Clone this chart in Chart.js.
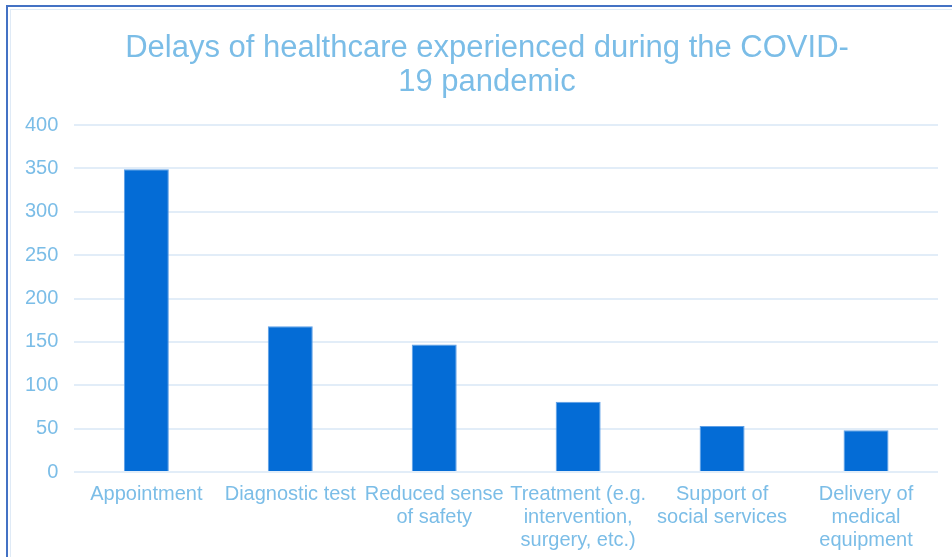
<!DOCTYPE html>
<html>
<head>
<meta charset="utf-8">
<script src="https://cdn.jsdelivr.net/npm/chart.js@4/dist/chart.umd.min.js"></script>
<style>
  html, body { margin: 0; padding: 0; background: #fff; }
  #wrap { position: relative; width: 952px; height: 557px; overflow: hidden; }
  #frame { position: absolute; left: 6px; top: 5px; width: 1000px; height: 600px;
           border-left: 2px solid #4472c4; border-top: 2px solid #4472c4; box-sizing: border-box; }
  #inner { position: absolute; left: 10px; top: 9px; width: 1000px; height: 600px;
           border-left: 1px solid #dfeaf6; border-top: 1px solid #dfeaf6; box-sizing: border-box; }
  canvas { position: absolute; left: 0; top: 0; }
</style>
</head>
<body>
<div id="wrap">
  <div id="frame"></div>
  <div id="inner"></div>
  <canvas id="c" width="952" height="557"></canvas>
</div>
<script>
const titleLines = ["Delays of healthcare experienced during the COVID-", "19 pandemic"];
const categories = [
  "Appointment",
  "Diagnostic test",
  ["Reduced sense", "of safety"],
  ["Treatment (e.g.", "intervention,", "surgery, etc.)"],
  ["Support of", "social services"],
  ["Delivery of", "medical", "equipment"]
];
const values = [349, 168, 147, 81, 53, 48];
const yTicks = [0, 50, 100, 150, 200, 250, 300, 350, 400];

const textColor = '#7bbde7';
const font = 'Arial, "Liberation Sans", sans-serif';

// Draws the two-line title, centred a little right of the canvas centre as in the reference.
const titlePlugin = {
  id: 'offsetTitle',
  afterDraw(chart) {
    const ctx = chart.ctx;
    ctx.save();
    ctx.fillStyle = textColor;
    ctx.font = '31px ' + font;
    ctx.textAlign = 'center';
    ctx.textBaseline = 'middle';
    const cx = 487, top = 31, lh = 34.1;
    titleLines.forEach((line, i) => ctx.fillText(line, cx, top + lh * (i + 0.5)));
    ctx.restore();
  }
};

new Chart(document.getElementById('c'), {
  type: 'bar',
  data: {
    labels: categories,
    datasets: [{
      data: values,
      backgroundColor: '#046cd6',
      borderColor: '#5e9fe6',
      borderWidth: 1,
      categoryPercentage: 1,
      barPercentage: 0.3125
    }]
  },
  options: {
    responsive: false,
    animation: false,
    layout: { padding: { left: 9, right: 14, top: 125, bottom: 2 } },
    plugins: {
      legend: { display: false },
      tooltip: { enabled: false },
      title: { display: false }
    },
    scales: {
      x: {
        grid: { display: false },
        border: { display: false },
        ticks: {
          color: textColor,
          font: { family: font, size: 20, lineHeight: 1.15 },
          padding: 3,
          maxRotation: 0,
          autoSkip: false
        }
      },
      y: {
        min: 0,
        max: 400,
        afterBuildTicks: (axis) => { axis.ticks = yTicks.map(v => ({ value: v })); },
        grid: { color: '#e2edf8', lineWidth: 2, drawTicks: false },
        border: { display: false },
        ticks: {
          color: textColor,
          font: { family: font, size: 20 },
          padding: 16
        }
      }
    }
  },
  plugins: [titlePlugin]
});
</script>
</body>
</html>
